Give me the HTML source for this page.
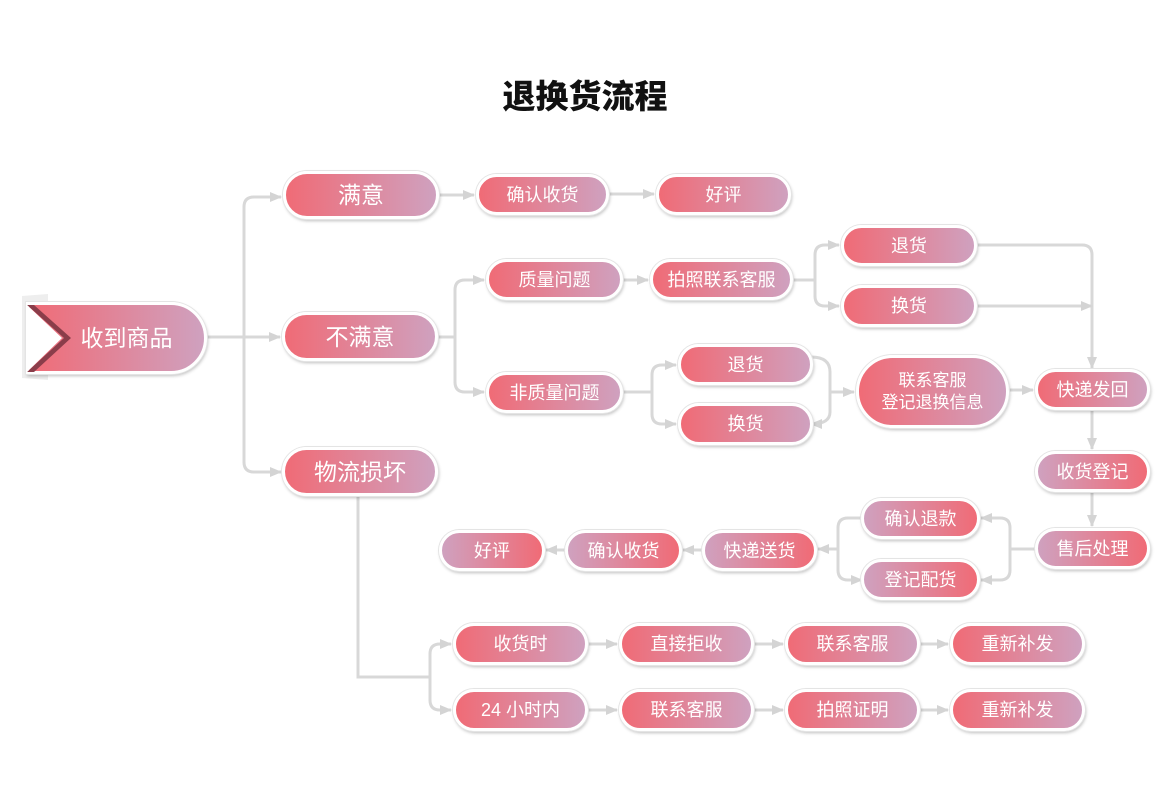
<!DOCTYPE html>
<html><head><meta charset="utf-8"><style>
body{margin:0;width:1170px;height:800px;background:#fff;position:relative;overflow:hidden;font-family:"Liberation Sans","Noto Sans CJK SC",sans-serif}
.t{position:absolute;left:0;width:1170px;top:70px;text-align:center;font-size:33px;font-weight:900;color:#111;font-family:"Noto Sans CJK SC",sans-serif}
.n{position:absolute;box-sizing:border-box;border:3px solid #fff;border-radius:999px;background:linear-gradient(90deg,#f06b76,#cfa1bf);color:#fff;display:flex;align-items:center;justify-content:center;text-align:center;font-size:18px;line-height:22px;box-shadow:0 0 0 1px #e4e4e4,1px 2px 3px rgba(0,0,0,.25)}
.r{background:linear-gradient(90deg,#cfa1bf,#f06b76)}
.b{font-size:23px}
svg{position:absolute;left:0;top:0}
</style></head><body>
<div class="t">退换货流程</div>
<svg width="1170" height="800">
<defs><marker id="a" markerWidth="12" markerHeight="12" refX="11" refY="6" orient="auto" markerUnits="userSpaceOnUse"><path d="M0,1 L12,6 L0,11z" fill="#d4d4d4"/></marker></defs>
<g fill="none" stroke="#d8d8d8" stroke-width="3" marker-end="url(#a)">
<path d="M205,337 H280"/>
<path d="M244,337 V207 Q244,197 254,197 H281"/>
<path d="M244,337 V462 Q244,472 254,472 H281"/>
<path d="M438,195 H474"/>
<path d="M607,194 H654"/>
<path d="M436,337 H455 V290 Q455,280 465,280 H484"/>
<path d="M455,337 V382 Q455,392 465,392 H484"/>
<path d="M621,280 H648"/>
<path d="M791,280 H815 V255 Q815,245 825,245 H839"/>
<path d="M815,280 V296 Q815,306 825,306 H839"/>
<path d="M975,245 H1082 Q1092,245 1092,255 V368"/>
<path d="M975,306 H1092" marker-end=""/>
<path d="M621,392 H652 V375 Q652,365 662,365 H676"/>
<path d="M652,392 V414 Q652,424 662,424 H676"/>
<path d="M811,357 Q830,357 830,372 V412 Q830,424 811,424" marker-end=""/>
<path d="M830,392 H854"/>
<path d="M1007,390 H1033"/>
<path d="M1092,408 V449"/>
<path d="M1092,490 V526"/>
<path d="M1036,549 H1010 V528 Q1010,518 1000,518 H981"/>
<path d="M1010,549 V570 Q1010,580 1000,580 H981"/>
<path d="M862,518 H848 Q838,518 838,528 V570 Q838,580 848,580 H862" marker-end=""/>
<path d="M838,549 H818"/>
<path d="M703,550 H683"/>
<path d="M566,550 H546"/>
<path d="M358,495 V677 H430 V654 Q430,644 440,644 H451"/>
<path d="M430,677 V700 Q430,710 440,710 H451"/>
<path d="M586,644 H617"/><path d="M752,644 H783"/><path d="M918,644 H948"/>
<path d="M586,710 H617"/><path d="M752,710 H783"/><path d="M918,710 H948"/>
</g>
<polygon points="22,296 48,294 48,380 22,378" fill="#eee"/>
</svg>
<div class="n b" style="left:26px;top:302px;width:181px;height:72px;border-radius:0 40px 40px 0;padding-left:20px">收到商品</div>
<svg width="70" height="80" style="left:24px;top:300px"><polygon points="3,5 40,38 3,72 10,72 47,38 10,5" fill="#8a3d4a"/><polygon points="3,5 38,38 3,72" fill="#fff"/></svg>
<div class="n b" style="left:283px;top:171px;width:156px;height:48px">满意</div>
<div class="n b" style="left:282px;top:312px;width:156px;height:49px">不满意</div>
<div class="n b" style="left:282px;top:447px;width:156px;height:49px">物流损坏</div>
<div class="n" style="left:476px;top:174px;width:133px;height:41px">确认收货</div>
<div class="n" style="left:656px;top:174px;width:135px;height:41px">好评</div>
<div class="n" style="left:486px;top:259px;width:137px;height:41px">质量问题</div>
<div class="n" style="left:650px;top:259px;width:143px;height:41px">拍照联系客服</div>
<div class="n" style="left:841px;top:225px;width:136px;height:41px">退货</div>
<div class="n" style="left:841px;top:285px;width:136px;height:42px">换货</div>
<div class="n" style="left:486px;top:372px;width:137px;height:41px">非质量问题</div>
<div class="n" style="left:678px;top:344px;width:135px;height:41px">退货</div>
<div class="n" style="left:678px;top:403px;width:135px;height:42px">换货</div>
<div class="n" style="left:856px;top:355px;width:153px;height:73px;font-size:17px">联系客服<br>登记退换信息</div>
<div class="n" style="left:1035px;top:369px;width:115px;height:41px">快递发回</div>
<div class="n r" style="left:1035px;top:451px;width:115px;height:41px">收货登记</div>
<div class="n r" style="left:1035px;top:528px;width:115px;height:41px">售后处理</div>
<div class="n r" style="left:861px;top:498px;width:119px;height:41px">确认退款</div>
<div class="n r" style="left:861px;top:559px;width:119px;height:41px">登记配货</div>
<div class="n r" style="left:702px;top:530px;width:115px;height:41px">快递送货</div>
<div class="n r" style="left:565px;top:530px;width:117px;height:41px">确认收货</div>
<div class="n r" style="left:439px;top:530px;width:106px;height:41px">好评</div>
<div class="n" style="left:453px;top:623px;width:135px;height:42px">收货时</div>
<div class="n" style="left:619px;top:623px;width:135px;height:42px">直接拒收</div>
<div class="n" style="left:785px;top:623px;width:135px;height:42px">联系客服</div>
<div class="n" style="left:950px;top:623px;width:135px;height:42px">重新补发</div>
<div class="n" style="left:453px;top:689px;width:135px;height:42px">24 小时内</div>
<div class="n" style="left:619px;top:689px;width:135px;height:42px">联系客服</div>
<div class="n" style="left:785px;top:689px;width:135px;height:42px">拍照证明</div>
<div class="n" style="left:950px;top:689px;width:135px;height:42px">重新补发</div>
</body></html>
